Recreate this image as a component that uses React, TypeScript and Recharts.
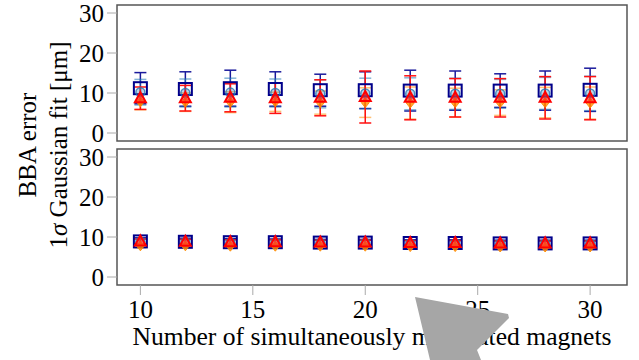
import React from "react";
import {
  ScatterChart,
  Scatter,
  XAxis,
  YAxis,
  ErrorBar,
  ReferenceArea,
  Label,
} from "recharts";

// number of simultaneously modulated magnets
const magnets = [10, 12, 14, 16, 18, 20, 22, 24, 26, 28, 30];

// upper panel
const upperNavy = [11.2, 11.0, 11.2, 11.0, 10.7, 10.7, 10.6, 10.6, 10.6, 10.6, 10.8];
const upperNavyErr = [3.9, 4.3, 4.5, 4.3, 4.0, 4.6, 5.1, 4.9, 4.2, 4.9, 5.4];
const upperBlue = [10.2, 10.0, 10.1, 10.0, 9.8, 9.9, 9.8, 9.8, 9.8, 9.9, 9.9];
const upperBlueErr = [3.2, 3.5, 3.6, 3.5, 3.5, 3.8, 4.0, 3.9, 3.6, 4.0, 4.3];
const upperOrange = [7.8, 7.7, 7.7, 7.8, 7.6, 7.6, 7.5, 7.6, 7.6, 7.6, 7.5];
const upperOrangeErr = [2.0, 2.3, 2.6, 2.4, 2.9, 3.7, 4.0, 3.6, 3.2, 3.8, 4.0];
const upperRed = [8.7, 8.7, 8.8, 8.7, 8.8, 9.0, 8.8, 8.8, 8.8, 8.8, 8.7];
const upperRedErr = [2.8, 3.2, 3.5, 3.8, 4.5, 6.5, 5.5, 4.8, 4.8, 5.3, 5.4];

// lower panel
const lowerNavy = [8.9, 8.8, 8.7, 8.7, 8.6, 8.6, 8.5, 8.5, 8.4, 8.4, 8.4];
const lowerNavyErr = [0.9, 0.9, 0.9, 0.8, 0.8, 0.8, 0.8, 0.8, 0.8, 0.8, 0.8];
const lowerBlue = [8.8, 8.7, 8.6, 8.6, 8.5, 8.5, 8.4, 8.4, 8.3, 8.3, 8.3];
const lowerBlueErr = [0.7, 0.7, 0.7, 0.7, 0.7, 0.7, 0.7, 0.7, 0.7, 0.7, 0.7];
const lowerOrange = [7.8, 7.8, 7.7, 7.7, 7.7, 7.7, 7.6, 7.6, 7.5, 7.5, 7.5];
const lowerOrangeErr = [0.5, 0.5, 0.5, 0.5, 0.5, 0.5, 0.5, 0.5, 0.5, 0.5, 0.5];
const lowerRed = [8.9, 8.8, 8.7, 8.7, 8.6, 8.6, 8.5, 8.5, 8.4, 8.4, 8.4];
const lowerRedErr = [0.6, 0.6, 0.6, 0.6, 0.6, 0.6, 0.6, 0.6, 0.6, 0.6, 0.6];

const yTicks = [0, 10, 20, 30];
const xTicks = [10, 15, 20, 25, 30];

const xDomain: [number, number] = [8.96, 31.64];
const yDomain: [number, number] = [-2, 32];
const FONT = "Liberation Serif, DejaVu Serif, serif";

const pts = (ys: number[], errs: number[]) =>
  magnets.map((x, i) => ({ x, y: ys[i], err: errs[i] }));

const NavySquare = (p: any) => (
  <rect x={p.cx - 6.5} y={p.cy - 6} width={13} height={12} fill="none" stroke="#00008b" strokeWidth={2} />
);
const BlueCircle = (p: any) => (
  <circle cx={p.cx} cy={p.cy} r={4.5} fill="rgba(70,130,180,0.35)" stroke="rgba(31,119,180,0.8)" strokeWidth={1.5} />
);
const OrangeDiamond = (p: any) => (
  <path
    d={`M${p.cx},${p.cy - 5} L${p.cx + 4},${p.cy} L${p.cx},${p.cy + 5} L${p.cx - 4},${p.cy} Z`}
    fill="rgba(255,140,0,0.8)"
    stroke="rgba(255,140,0,0.9)"
    strokeWidth={1}
  />
);
const RedTriangle = (p: any) => (
  <path
    d={`M${p.cx},${p.cy - 6} L${p.cx + 5.5},${p.cy + 4} L${p.cx - 5.5},${p.cy + 4} Z`}
    fill="rgba(255,40,40,0.6)"
    stroke="#ff0000"
    strokeWidth={2}
  />
);

interface PanelProps {
  navy: number[];
  navyErr: number[];
  blue: number[];
  blueErr: number[];
  orange: number[];
  orangeErr: number[];
  red: number[];
  redErr: number[];
  showX: boolean;
  height: number;
  bottom: number;
}

function Panel(props: PanelProps) {
  const tickStyle = { fontSize: 25, fill: "#000", fontFamily: FONT };
  return (
    <ScatterChart
      width={639}
      height={props.height}
      margin={{ top: 5, right: 12, bottom: props.bottom, left: 0 }}
    >
      <ReferenceArea
        x1={xDomain[0]}
        x2={xDomain[1]}
        y1={yDomain[0]}
        y2={yDomain[1]}
        fill="none"
        stroke="#555"
        strokeWidth={1.5}
        fillOpacity={0}
      />
      <XAxis
        type="number"
        dataKey="x"
        domain={xDomain}
        ticks={xTicks}
        interval={0}
        allowDataOverflow
        hide={!props.showX}
        height={75}
        axisLine={false}
        tickLine={{ stroke: "#aaa" }}
        tickSize={10}
        tickMargin={5}
        tick={tickStyle}
      >
        {props.showX && (
          <Label
            value="Number of simultaneously modulated magnets"
            position="insideBottom"
            offset={15}
            style={{ fontSize: 25.6, fill: "#000", fontFamily: FONT }}
          />
        )}
      </XAxis>
      <YAxis
        type="number"
        dataKey="y"
        domain={yDomain}
        ticks={yTicks}
        interval={0}
        allowDataOverflow
        width={117}
        axisLine={false}
        tickLine={{ stroke: "#aaa" }}
        tickSize={10}
        tickMargin={3}
        tick={tickStyle}
      />
      <Scatter data={pts(props.navy, props.navyErr)} shape={NavySquare} isAnimationActive={false}>
        <ErrorBar dataKey="err" direction="y" width={6} stroke="#1a1a9c" strokeWidth={1.5} />
      </Scatter>
      <Scatter data={pts(props.blue, props.blueErr)} shape={BlueCircle} isAnimationActive={false}>
        <ErrorBar dataKey="err" direction="y" width={6} stroke="rgba(31,119,180,0.55)" strokeWidth={1.5} />
      </Scatter>
      <Scatter data={pts(props.orange, props.orangeErr)} shape={OrangeDiamond} isAnimationActive={false}>
        <ErrorBar dataKey="err" direction="y" width={6} stroke="rgba(255,140,0,0.55)" strokeWidth={1.5} />
      </Scatter>
      <Scatter data={pts(props.red, props.redErr)} shape={RedTriangle} isAnimationActive={false}>
        <ErrorBar dataKey="err" direction="y" width={6} stroke="#ff1010" strokeWidth={1.5} />
      </Scatter>
    </ScatterChart>
  );
}

export default function App() {
  return (
    <div
      style={{
        position: "absolute",
        left: 0,
        top: 0,
        width: 639,
        height: 360,
        background: "#fff",
        overflow: "hidden",
        fontFamily: FONT,
      }}
    >
      <div style={{ position: "absolute", left: 0, top: 0 }}>
        <Panel
          navy={upperNavy}
          navyErr={upperNavyErr}
          blue={upperBlue}
          blueErr={upperBlueErr}
          orange={upperOrange}
          orangeErr={upperOrangeErr}
          red={upperRed}
          redErr={upperRedErr}
          showX={false}
          height={150}
          bottom={9}
        />
      </div>
      <div style={{ position: "absolute", left: 0, top: 144 }}>
        <Panel
          navy={lowerNavy}
          navyErr={lowerNavyErr}
          blue={lowerBlue}
          blueErr={lowerBlueErr}
          orange={lowerOrange}
          orangeErr={lowerOrangeErr}
          red={lowerRed}
          redErr={lowerRedErr}
          showX={true}
          height={216}
          bottom={0}
        />
      </div>
      <svg
        width={639}
        height={360}
        style={{ position: "absolute", left: 0, top: 0, pointerEvents: "none" }}
      >
        <g fontFamily={FONT} fontSize={25} fill="#000" textAnchor="middle">
          <text transform="translate(36,145) rotate(-90)">BBA error</text>
          <text transform="translate(67,145) rotate(-90)">
            1<tspan fontStyle="italic">σ</tspan> Gaussian fit [μm]
          </text>
        </g>
        <polygon
          points="415,297 508,314 509,318 477,350 481,360 430,360"
          fill="#a6a6a6"
        />
      </svg>
    </div>
  );
}
